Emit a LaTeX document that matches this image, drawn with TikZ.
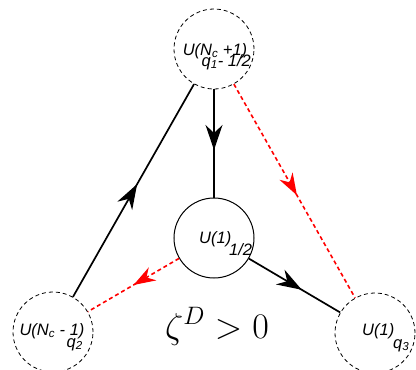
\RequirePackage{fix-cm}
\documentclass[tikz,border=0pt]{standalone}
\usepackage{fontspec}
\setsansfont{Liberation Sans}
\usetikzlibrary{arrows.meta,decorations.markings}
\begin{document}
\begin{tikzpicture}[x=1pt,y=-1pt,
  gnode/.style={circle,draw,line width=1pt,minimum size=80pt,inner sep=0pt},
  fnode/.style={circle,draw,line width=0.8pt,dash pattern=on 4pt off 3pt,minimum size=80pt,inner sep=0pt},
  lbl/.style={font=\sffamily\itshape\fontsize{16.5}{16.5}\selectfont,inner sep=0pt},
  blk/.style={line width=1.7pt,postaction={decorate},
    decoration={markings,mark=at position #1 with {\arrow{Stealth[length=25pt,width=17pt]}}}},
  rd/.style={red,line width=1.6pt,dash pattern=on 4pt off 3pt,postaction={decorate},
    decoration={markings,mark=at position #1 with {\arrow{Stealth[length=22pt,width=15pt]}}}}
]
\useasboundingbox (0,0) rectangle (416,370);
\node[fnode] (top) at (214,49) {};
\node[gnode] (mid) at (214,238) {};
\node[fnode] (bl) at (53,332) {};
\node[fnode] (br) at (375,333) {};

\draw[blk=0.56] (top) -- (mid);
\draw[blk=0.53] (bl) -- (top);
\draw[blk=0.58] (mid) -- (br);
\draw[rd=0.52] (top) -- (br);
\draw[rd=0.5] (mid) -- (bl);

\node[lbl,anchor=base] (t1) at (215,55) {U(N\textsubscript{c} +1)};
\node[lbl,anchor=base east] (t2) at (251,66) {q\textsubscript{1}- 1/2};
\node[lbl,anchor=base west] (m1) at (199,243) {U(1)};
\node[lbl,anchor=base west] (m2) at (229,255) {1/2};
\node[lbl,anchor=base] (b1) at (52,335) {U(N\textsubscript{c} - 1)};
\node[lbl,anchor=base east] (b2) at (83,347) {q\textsubscript{2}};
\node[lbl,anchor=base west] (r1) at (362,335) {U(1)};
\node[lbl,anchor=base west] (r2) at (393,348) {q\textsubscript{3}};
\node[font=\fontsize{36}{42}\selectfont,anchor=base,inner sep=0pt] (z) at (217,338) {$\zeta^D > 0$};
\end{tikzpicture}
\end{document}
